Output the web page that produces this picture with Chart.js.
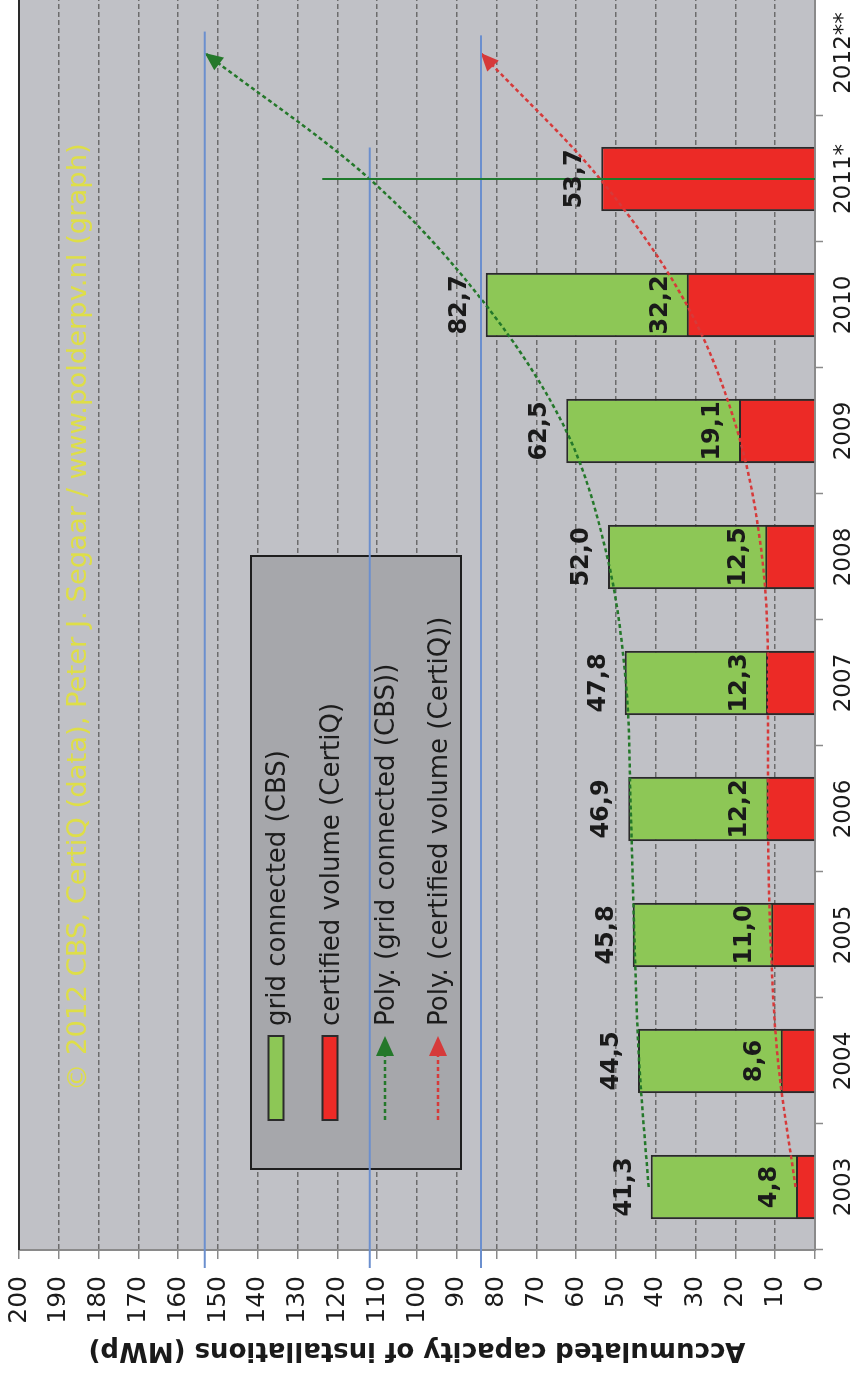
<!DOCTYPE html>
<html><head><meta charset="utf-8">
<script src="https://cdn.jsdelivr.net/npm/chart.js@4.4.1/dist/chart.umd.min.js"></script>
<style>
html,body{margin:0;padding:0;background:#fff;overflow:hidden;width:851px;height:1378px;}
#wrap{position:absolute;left:0;top:0;width:1392px;height:851px;transform-origin:0 0;transform:translate(0px,1378px) rotate(-90deg);}
canvas{display:block;}
</style></head><body>
<div id="wrap"><canvas id="c" width="1392" height="851"></canvas></div>
<script>
// ---- data ----
const years = ['2003','2004','2005','2006','2007','2008','2009','2010','2011*','2012**'];
const gridConnected = [41.3,44.5,45.8,46.9,47.8,52.0,62.5,82.7,null,null];
const certifiedVolume = [4.8,8.6,11.0,12.2,12.3,12.5,19.1,32.2,53.7,null];
const polyGridConnected = [41.8,44.2,45.4,46.3,47.5,52.2,62.5,82.7,111.9,153.3];
const polyCertified = [4.9,9.3,11.2,11.8,11.8,13.3,19.5,32.2,54.0,84.0];
const valueTicks = [0,10,20,30,40,50,60,70,80,90,100,110,120,130,140,150,160,170,180,190,200];
const refLevels = [153.3,111.9,83.9];
const refReach = [9.17,8.25,9.14];
const markerCategory = [8];
const markerTop = [123.8];
const legendLabels = ['grid connected (CBS)','certified volume (CertiQ)','Poly. (grid connected (CBS))','Poly. (certified volume (CertiQ))'];
const axisTitle = 'Accumulated capacity of installations (MWp)';
const watermark = '\u00A9 2012 CBS, CertiQ (data), Peter J. Segaar / www.polderpv.nl (graph)';

// ---- styles ----
const GREEN = '#8dc756', RED = '#ec2a26';
const TGREEN = '#24782a', TRED = '#d63a3a';
const FONT = '"DejaVu Sans", Verdana, sans-serif';
const fmt = v => v.toFixed(1).replace('.', ',');

function arrowHead(ctx, x, y, ang, len, hw, color){
  ctx.save();
  ctx.translate(x, y); ctx.rotate(ang);
  ctx.beginPath(); ctx.moveTo(0,0); ctx.lineTo(-len,-hw); ctx.lineTo(-len,hw); ctx.closePath();
  ctx.fillStyle = color; ctx.fill();
  ctx.restore();
}

const decor = {
  id: 'decor',
  beforeDraw(chart){
    const {ctx, chartArea:a} = chart;
    ctx.save();
    ctx.fillStyle = '#fff'; ctx.fillRect(0,0,chart.width,chart.height);
    ctx.fillStyle = '#c0c1c6'; ctx.fillRect(a.left, a.top, a.right-a.left, a.bottom-a.top);
    ctx.restore();
  },
  beforeDatasetsDraw(chart){
    const {ctx, chartArea:a} = chart;
    ctx.save();
    ctx.strokeStyle = '#2a2a2a'; ctx.lineWidth = 2;
    ctx.beginPath(); ctx.moveTo(a.left, a.top); ctx.lineTo(a.right, a.top); ctx.stroke();
    ctx.font = '24px ' + FONT;
    const w = ctx.measureText(watermark).width;
    const fs = 24 * 948 / w;
    ctx.font = fs.toFixed(2) + 'px ' + FONT;
    ctx.fillStyle = '#dede48';
    ctx.textBaseline = 'alphabetic'; ctx.textAlign = 'left';
    ctx.fillText(watermark, 287, 86);
    ctx.restore();
  },
  afterDatasetsDraw(chart){
    const {ctx} = chart;
    const xs = chart.scales.x, ys = chart.scales.y;
    [[2,TGREEN],[3,TRED]].forEach(([di,col])=>{
      const pts = chart.getDatasetMeta(di).data;
      const p = pts[pts.length-1], q = pts[pts.length-2];
      let dx = p.x - (p.cp1x ?? q.x), dy = p.y - (p.cp1y ?? q.y);
      if (Math.abs(dx)+Math.abs(dy) < 0.5){ dx = p.x-q.x; dy = p.y-q.y; }
      arrowHead(ctx, p.x, p.y, Math.atan2(dy,dx), 18, 8, col);
    });
    ctx.save();
    ctx.fillStyle = '#a6a7ab'; ctx.fillRect(209,251,613,210);
    ctx.strokeStyle = '#1e1e1e'; ctx.lineWidth = 2; ctx.strokeRect(209,251,613,210);
    const rows = [276,330,385,438];
    [GREEN,RED].forEach((c,i)=>{
      ctx.fillStyle = c; ctx.fillRect(258, rows[i]-7.5, 84, 15);
      ctx.strokeStyle = '#2b2b2b'; ctx.lineWidth = 2; ctx.strokeRect(258, rows[i]-7.5, 84, 15);
    });
    [TGREEN,TRED].forEach((c,i)=>{
      const r = rows[i+2];
      ctx.strokeStyle = c; ctx.lineWidth = 2.5; ctx.setLineDash([4,3]);
      ctx.beginPath(); ctx.moveTo(258, r); ctx.lineTo(326, r); ctx.stroke();
      ctx.setLineDash([]);
      arrowHead(ctx, 342, r, 0, 20, 9, c);
    });
    ctx.font = '26px ' + FONT; ctx.fillStyle = '#1c1c1c';
    ctx.textAlign = 'left'; ctx.textBaseline = 'alphabetic';
    legendLabels.forEach((t,i)=> ctx.fillText(t, 352, rows[i]+9));
    ctx.strokeStyle = '#6b8fce'; ctx.lineWidth = 2;
    refLevels.forEach((v,i)=>{
      const y = ys.getPixelForValue(v);
      const xEnd = xs.getPixelForValue(0) + (refReach[i]) * (xs.getPixelForValue(1)-xs.getPixelForValue(0));
      ctx.beginPath(); ctx.moveTo(110, y); ctx.lineTo(xEnd, y); ctx.stroke();
    });
    ctx.strokeStyle = '#1f7a2c'; ctx.lineWidth = 2;
    markerCategory.forEach((c,i)=>{
      const x = xs.getPixelForValue(c);
      ctx.beginPath(); ctx.moveTo(x, ys.getPixelForValue(0)); ctx.lineTo(x, ys.getPixelForValue(markerTop[i])); ctx.stroke();
    });
    ctx.font = 'bold 24px ' + FONT; ctx.fillStyle = '#1a1a1a';
    ctx.textAlign = 'center'; ctx.textBaseline = 'alphabetic';
    [[0,gridConnected],[1,certifiedVolume]].forEach(([di,vals])=>{
      const meta = chart.getDatasetMeta(di);
      vals.forEach((v,j)=>{
        if (v === null) return;
        const el = meta.data[j];
        ctx.fillText(fmt(v), el.x, el.y - 20);
      });
    });
    ctx.restore();
  }
};

new Chart(document.getElementById('c'), {
  data: {
    labels: years,
    datasets: [
      {type:'bar', label:legendLabels[0], data:gridConnected, backgroundColor:GREEN, borderColor:'#2a2a2a', borderWidth:2, order:2, barPercentage:0.51, categoryPercentage:1},
      {type:'bar', label:legendLabels[1], data:certifiedVolume, backgroundColor:RED, borderColor:'#2a2a2a', borderWidth:2, order:1, barPercentage:0.51, categoryPercentage:1},
      {type:'line', label:legendLabels[2], data:polyGridConnected, borderColor:TGREEN, borderWidth:2.5, borderDash:[4,3], pointRadius:0, fill:false, cubicInterpolationMode:'monotone', order:0},
      {type:'line', label:legendLabels[3], data:polyCertified, borderColor:TRED, borderWidth:2.5, borderDash:[4,3], pointRadius:0, fill:false, cubicInterpolationMode:'monotone', order:0}
    ]
  },
  options: {
    responsive:false, animation:false, devicePixelRatio:1,
    layout:{padding:{top:19,right:4,left:0,bottom:0}},
    plugins:{legend:{display:false}, tooltip:{enabled:false}},
    scales:{
      x:{
        stacked:true, offset:true,
        grid:{drawOnChartArea:false, drawTicks:true, tickLength:8, color:'#8a8a8a', tickColor:'#8a8a8a', tickWidth:1.5},
        border:{display:true, color:'#8a8a8a', width:2},
        ticks:{font:{family:FONT, size:23}, color:'#1c1c1c', padding:7, maxRotation:0, autoSkip:false},
        afterFit(s){ s.height = 36; s.paddingLeft = 0; s.paddingRight = 0; }
      },
      y:{
        stacked:false, min:0, max:200,
        afterBuildTicks(s){ s.ticks = valueTicks.map(v=>({value:v})); },
        grid:{color:'#6c6c6c', lineWidth:1.5, tickLength:9, tickColor:'#8a8a8a', tickWidth:1.5, tickBorderDash:[]},
        border:{display:true, color:'#8a8a8a', width:2, dash:[5,3]},
        ticks:{font:{family:FONT, size:25}, color:'#1c1c1c', padding:17},
        title:{display:true, text:axisTitle, font:{family:FONT, size:26, weight:'bold'}, color:'#1a1a1a', padding:{top:13,bottom:0}},
        afterFit(s){ s.width = 128; s.paddingTop = 0; s.paddingBottom = 0; }
      }
    }
  },
  plugins:[decor]
});
</script>
</body></html>
